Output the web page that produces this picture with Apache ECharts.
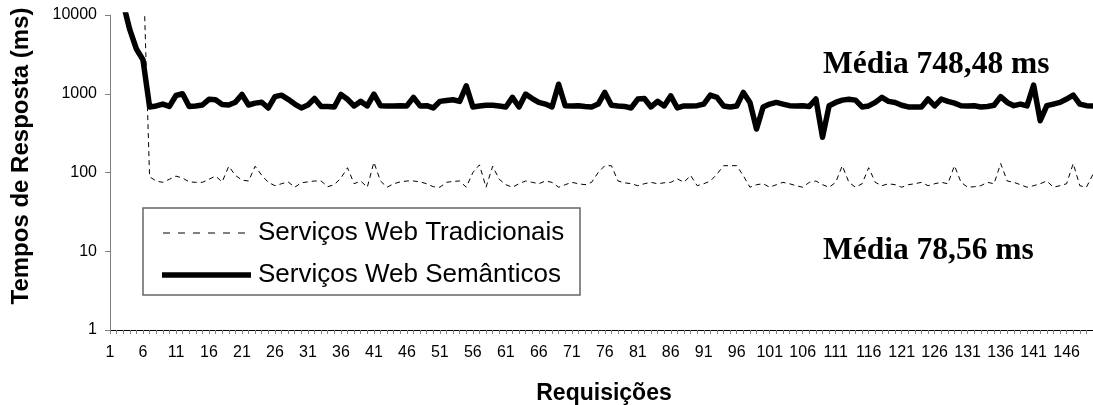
<!DOCTYPE html>
<html>
<head>
<meta charset="utf-8">
<script src="https://cdn.jsdelivr.net/npm/echarts@6/dist/echarts.min.js"></script>
<style>
html,body{margin:0;padding:0;background:#fff;}
#chart{width:1093px;height:405px;}
</style>
</head>
<body>
<div id="chart"></div>
<script>
// Requisições 1..150
var categories = Array.from({length: 150}, function (_, i) { return String(i + 1); });

var yTicks = [1, 10, 100, 1000, 10000];

var seriesNames = ['Serviços Web Tradicionais', 'Serviços Web Semânticos'];

// Serviços Web Tradicionais (ms)
var tradicionais = [
  60000, 58000, 55000, 52000, 50000, 50000,
  88, 78, 75, 82, 90, 85, 76, 75, 75, 82, 90, 76, 120, 92, 80, 78, 120, 92, 75, 68, 72, 76, 65, 74, 76, 78, 78, 66, 70, 85, 115,
  72, 78, 65, 135, 78, 65, 72, 76, 78, 78, 76, 72, 66, 65, 75, 77, 78, 65, 100, 125, 65, 120, 82, 70, 65, 72, 78, 75, 72, 78, 75, 65, 70, 75, 72, 70,
  75, 100, 122, 122, 78, 74, 72, 68, 72, 75, 72, 74, 75, 83, 75, 92, 68, 72, 78, 95, 122, 122, 122, 91, 65, 70, 72, 65, 70, 75, 72, 68, 65, 75, 78, 70,
  65, 75, 122, 75, 65, 72, 115, 75, 68, 72, 70, 65, 70, 72, 75, 68, 72, 75, 72, 122, 75, 65, 66, 68, 75, 72, 130, 78, 75, 70, 65, 68, 72, 78, 65, 68, 72, 130, 68, 65, 95
];

// Serviços Web Semânticos (ms)
var semanticos = [
  40000, 25000, 14000, 6500, 3700, 2700,
  680, 700, 740, 690, 950, 1000, 690, 700, 720, 850, 840, 730, 720, 780, 980, 720, 760, 780, 660, 920, 960, 850, 740, 660, 720, 870, 690, 690, 680, 980, 850,
  700, 800, 700, 990, 705, 700, 700, 705, 700, 900, 700, 705, 660, 800, 820, 840, 800, 1260, 680, 700, 715, 715, 700, 680, 900, 680, 990, 870, 776, 740, 680, 1320, 705, 700, 705, 690,
  680, 740, 1040, 715, 700, 690, 660, 857, 870, 680, 800, 700, 940, 660, 700, 700, 705, 740, 960, 900, 700, 680, 700, 1040, 776, 356, 680, 740, 776, 740, 705, 700, 705, 690, 857, 280,
  705, 776, 830, 850, 830, 680, 700, 776, 900, 800, 776, 715, 680, 680, 680, 857, 700, 857, 800, 760, 705, 700, 705, 680, 690, 715, 920, 776, 705, 740, 700, 1290, 455, 705, 740, 776, 857, 960, 740, 705, 700
];

var mediaLabels = ['Média 748,48 ms', 'Média 78,56 ms'];
var xTitle = 'Requisições';
var yTitle = 'Tempos de Resposta (ms)';

var SANS = '"Liberation Sans", Arial, sans-serif';
var SERIF = '"Liberation Serif", "Times New Roman", serif';

var TRAD_DASH = [5, 4];
var SEM_WIDTH = 5.5;

var chart = echarts.init(document.getElementById('chart'), null, {renderer: 'canvas'});
chart.setOption({
  animation: false,
  backgroundColor: '#fff',
  grid: {left: 110, top: 15, right: 0, bottom: 75, containLabel: false},
  xAxis: {
    type: 'category',
    data: categories,
    boundaryGap: false,
    axisLine: {show: true, onZero: false, lineStyle: {color: '#000', width: 1}},
    axisTick: {show: true, interval: 0, length: 4, inside: false, lineStyle: {color: '#808080'}},
    axisLabel: {interval: 4, margin: 15, color: '#000', fontFamily: SANS, fontSize: 16},
    splitLine: {show: false}
  },
  yAxis: {
    type: 'log',
    logBase: 10,
    min: yTicks[0],
    max: yTicks[yTicks.length - 1],
    axisLine: {show: true, lineStyle: {color: '#808080', width: 1}},
    axisTick: {show: true, length: 5, lineStyle: {color: '#808080'}},
    minorTick: {show: false},
    splitLine: {show: false},
    axisLabel: {
      margin: 13, color: '#000', fontFamily: SANS, fontSize: 16,
      formatter: function (v) { return String(Math.round(v)); }
    }
  },
  legend: {show: false},
  series: [
    {
      name: seriesNames[0], type: 'line', data: tradicionais,
      symbol: 'none', showSymbol: false, clip: true, z: 2,
      lineStyle: {color: '#000', width: 1, type: TRAD_DASH},
      itemStyle: {color: '#000'}
    },
    {
      name: seriesNames[1], type: 'line', data: semanticos,
      symbol: 'none', showSymbol: false, clip: true, z: 3,
      lineStyle: {color: '#000', width: SEM_WIDTH, type: 'solid', join: 'round', cap: 'round'},
      itemStyle: {color: '#000'}
    }
  ],
  graphic: [
    // legend box
    {type: 'rect', z: 100, shape: {x: 143, y: 208, width: 437, height: 87}, style: {fill: '#fff', stroke: '#666', lineWidth: 1.5}},
    {type: 'line', z: 101, shape: {x1: 163, y1: 233, x2: 249, y2: 233}, style: {stroke: '#000', lineWidth: 1, lineDash: [7, 8]}},
    {type: 'text', z: 101, x: 258, y: 233, style: {text: seriesNames[0], font: '26px ' + SANS, fill: '#000', align: 'left', verticalAlign: 'middle'}},
    {type: 'line', z: 101, shape: {x1: 162, y1: 275, x2: 251, y2: 275}, style: {stroke: '#000', lineWidth: SEM_WIDTH}},
    {type: 'text', z: 101, x: 258, y: 275, style: {text: seriesNames[1], font: '26px ' + SANS, fill: '#000', align: 'left', verticalAlign: 'middle'}},
    // annotations
    {type: 'text', x: 823, y: 65, z: 100, style: {text: mediaLabels[0], font: 'bold 31.5px ' + SERIF, fill: '#000', align: 'left', verticalAlign: 'middle'}},
    {type: 'text', x: 823, y: 251, z: 100, style: {text: mediaLabels[1], font: 'bold 31.5px ' + SERIF, fill: '#000', align: 'left', verticalAlign: 'middle'}},
    {type: 'text', x: 604, y: 393.5, z: 100, style: {text: xTitle, font: 'bold 23px ' + SANS, fill: '#000', align: 'center', verticalAlign: 'middle'}},
    {type: 'text', x: 21.5, y: 156, rotation: Math.PI / 2, z: 100, style: {text: yTitle, font: 'bold 24px ' + SANS, fill: '#000', align: 'center', verticalAlign: 'middle'}}
  ]
});
</script>
</body>
</html>
